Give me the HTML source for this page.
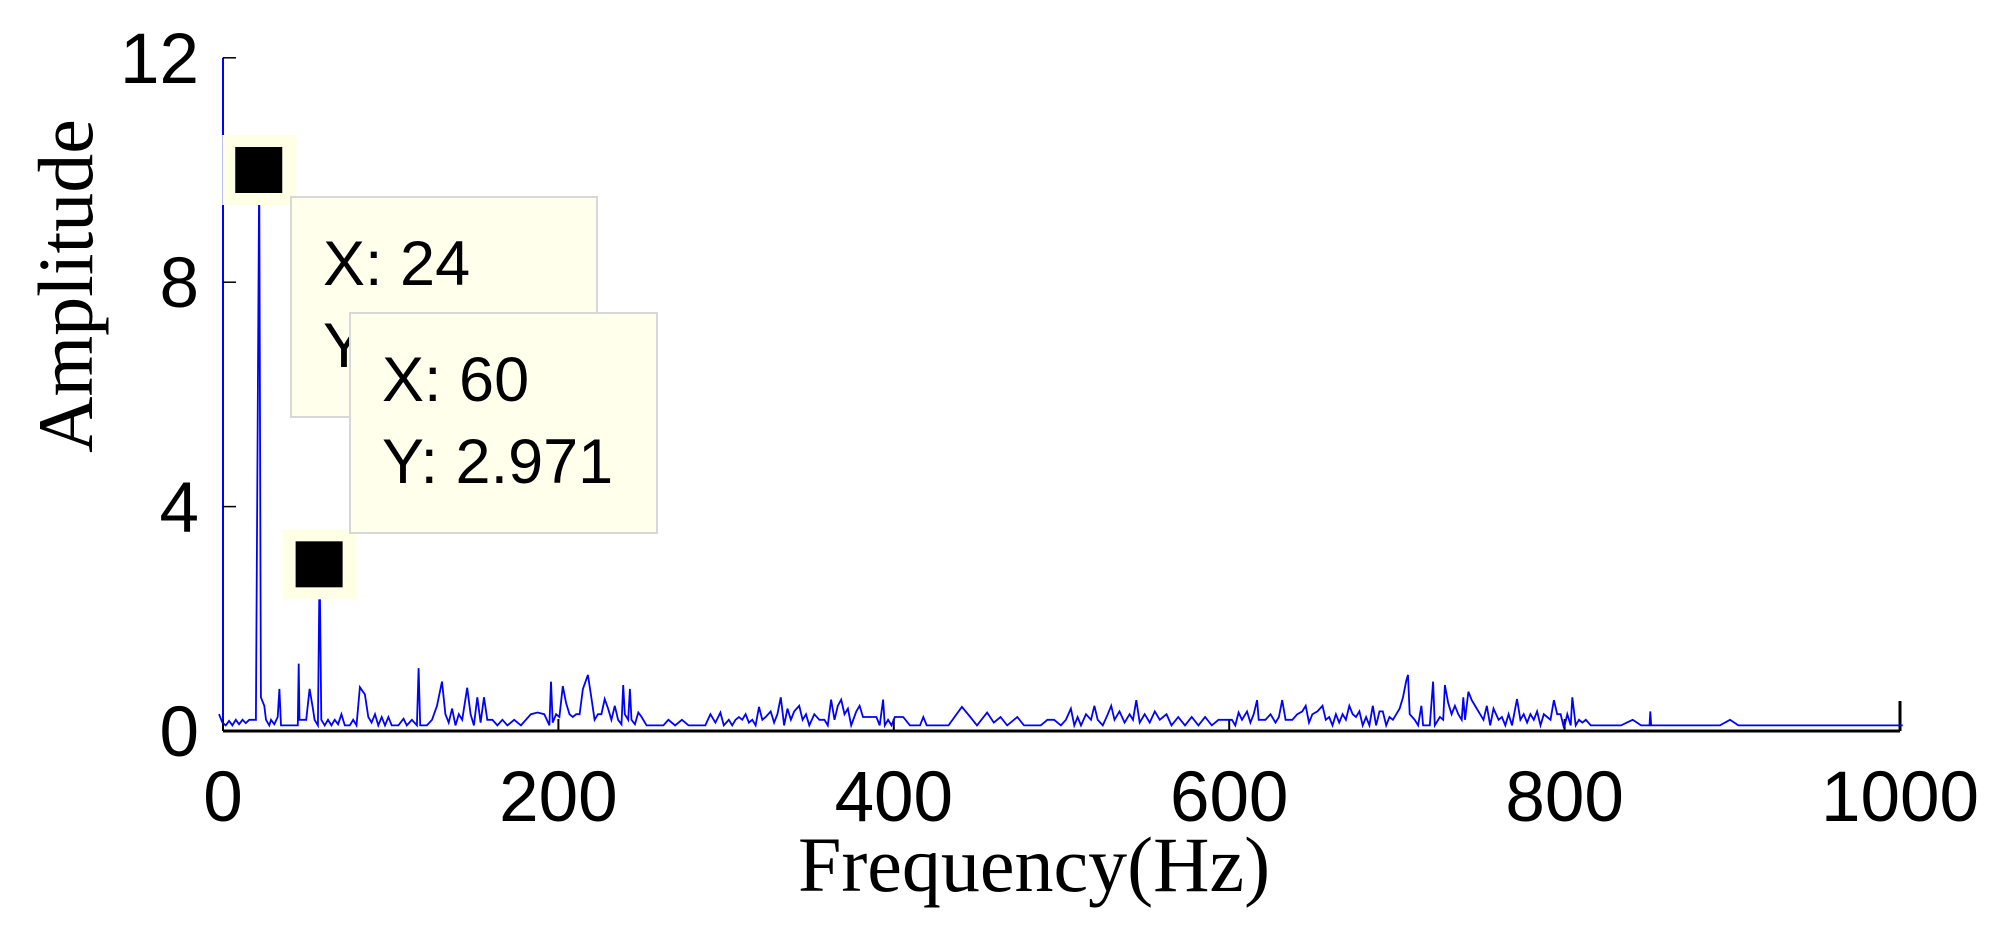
<!DOCTYPE html>
<html><head><meta charset="utf-8"><style>
html,body{margin:0;padding:0;background:#fff;}
svg{display:block;}
</style></head><body>
<svg width="2005" height="936" viewBox="0 0 2005 936" xmlns="http://www.w3.org/2000/svg">
<g id="axes"></g>
<g id="plot"></g>
<g id="tips"></g>
<text transform="translate(92,286) rotate(-90)" text-anchor="middle" font-family="Liberation Serif, serif" font-size="78">Amplitude</text>
<text x="1034" y="891" text-anchor="middle" font-family="Liberation Serif, serif" font-size="78">Frequency(Hz)</text>
</svg>
<script>
const freqs = [0,2,4,6,8,10,12,14,16,18,20,22,24,25,27,28,30,31,33,35,36,37,40,44,47,47.5,48,52,54,56,57,59,60,61,63,65,67,69,71,73,75,78,80,82,84,87,89,91,93,95,97,99,101,103,107,110,112,115,118,119,120,124,127,130,133,135,137,139,141,143,145,148,150,152,154,156,158,160,163,166,169,172,176,180,186,190,194,197,198,199,201,203,205,207,209,211,213,215,217,220,222,224,226,228,230,232,234,236,238,240,241,242,244,245,246,248,250,252,255,265,268,272,276,280,290,293,296,299,301,304,306,308,310,312,314,316,318,320,322,324,326,329,331,333,335,337,339,341,343,346,348,350,352,355,358,361,363,365,367,369,371,373,375,377,380,382,384,388,392,394,396,397,399,401,403,408,412,418,420,422,435,443,448,452,458,462,466,470,476,480,490,494,498,502,505,508,510,512,514,517,520,522,524,527,530,532,534,537,540,543,545,547,549,552,555,558,561,565,568,572,576,580,584,588,592,596,600,604,606,608,610,613,615,617,619,620,624,627,630,632,634,636,640,643,646,648,650,652,655,658,660,662,664,666,668,670,672,674,676,678,680,682,684,686,688,690,692,694,696,698,700,702,704,706,708,709,710,713,715,717,718,722,724,725,728,730,731,733,735,737,739,741,742,743,745,747,750,752,754,756,758,760,763,765,767,769,771,774,776,778,780,782,784,786,788,790,792,794,796,798,800,802,804,806,807,809,811,813,815,818,836,843,848,853,853.5,854,895,901,906,1004];
const amps = [0.3,0.15,0.1,0.18,0.1,0.2,0.12,0.2,0.14,0.2,0.2,0.2,10.0,0.6,0.45,0.2,0.1,0.2,0.12,0.25,0.75,0.1,0.1,0.1,0.1,1.2,0.2,0.2,0.75,0.4,0.2,0.1,2.97,0.2,0.1,0.2,0.1,0.2,0.12,0.3,0.1,0.1,0.2,0.1,0.78,0.65,0.25,0.15,0.3,0.1,0.25,0.1,0.25,0.1,0.1,0.22,0.1,0.2,0.1,1.12,0.1,0.1,0.2,0.45,0.88,0.3,0.15,0.4,0.1,0.3,0.2,0.77,0.3,0.1,0.6,0.15,0.6,0.2,0.2,0.1,0.2,0.1,0.2,0.1,0.3,0.33,0.3,0.1,0.88,0.15,0.3,0.25,0.8,0.5,0.3,0.25,0.3,0.3,0.75,1.0,0.6,0.2,0.3,0.3,0.57,0.4,0.2,0.45,0.2,0.12,0.82,0.3,0.2,0.75,0.2,0.12,0.33,0.25,0.1,0.1,0.2,0.1,0.2,0.1,0.1,0.3,0.15,0.33,0.1,0.2,0.1,0.2,0.25,0.2,0.3,0.15,0.2,0.1,0.43,0.2,0.25,0.35,0.15,0.3,0.6,0.1,0.4,0.2,0.35,0.45,0.2,0.3,0.1,0.3,0.2,0.2,0.1,0.56,0.2,0.45,0.56,0.3,0.4,0.1,0.35,0.45,0.25,0.25,0.25,0.1,0.56,0.1,0.2,0.1,0.25,0.25,0.1,0.1,0.25,0.1,0.1,0.43,0.25,0.1,0.33,0.15,0.25,0.1,0.25,0.1,0.1,0.2,0.2,0.1,0.2,0.4,0.1,0.25,0.1,0.3,0.2,0.45,0.2,0.1,0.3,0.45,0.2,0.35,0.15,0.3,0.2,0.55,0.15,0.3,0.15,0.35,0.2,0.3,0.1,0.25,0.1,0.25,0.1,0.25,0.1,0.2,0.2,0.2,0.1,0.33,0.2,0.35,0.15,0.3,0.55,0.2,0.2,0.3,0.15,0.25,0.55,0.2,0.2,0.3,0.35,0.45,0.15,0.3,0.35,0.45,0.2,0.25,0.1,0.3,0.15,0.3,0.2,0.45,0.3,0.25,0.35,0.1,0.25,0.1,0.45,0.1,0.35,0.35,0.1,0.25,0.2,0.3,0.4,0.6,0.9,1.0,0.3,0.2,0.1,0.45,0.1,0.1,0.88,0.1,0.25,0.2,0.82,0.5,0.3,0.45,0.3,0.2,0.6,0.2,0.7,0.55,0.4,0.3,0.2,0.45,0.1,0.4,0.2,0.25,0.1,0.3,0.1,0.57,0.2,0.3,0.15,0.3,0.2,0.35,0.1,0.3,0.25,0.2,0.55,0.3,0.3,0.05,0.3,0.1,0.6,0.1,0.2,0.15,0.2,0.1,0.1,0.2,0.1,0.1,0.35,0.1,0.1,0.2,0.1,0.1];
const xTicks = [0,200,400,600,800,1000];
const yTicks = [0,4,8,12];
const tipsData = [[24,10.0,"X: 24","Y: 10"],[60,2.971,"X: 60","Y: 2.971"]];

const NS="http://www.w3.org/2000/svg";
const X0=223, PXHZ=1.677, Y0=731, PXU=56.1, DOFF=-4;
const xs=v=>X0+v*PXHZ, ys=v=>Y0-v*PXU;
const xd=v=>xs(v)+DOFF;
function mk(tag,attrs,parent){const e=document.createElementNS(NS,tag);for(const k in attrs)e.setAttribute(k,attrs[k]);parent.appendChild(e);return e;}
const axes=document.getElementById('axes'), plot=document.getElementById('plot'), tips=document.getElementById('tips');
const FONT="Liberation Sans, sans-serif";

let yl=mk('line',{x1:X0,y1:ys(12),x2:X0,y2:Y0,stroke:'#0000ff','stroke-width':2},axes);


let xl=mk('line',{x1:X0,y1:Y0,x2:xs(1000),y2:Y0,stroke:'#000','stroke-width':3},axes);


yTicks.forEach(v=>{
  const t=mk('line',{x1:X0,y1:ys(v),x2:X0+13,y2:ys(v),stroke:'#000','stroke-width':1.5},axes);
  
  
  const l=mk('text',{x:199,y:ys(v)+25,'text-anchor':'end','font-family':FONT,'font-size':71},axes);
  
  
  l.textContent=v;
});
xTicks.forEach(v=>{
  const t=mk('line',{x1:xs(v),y1:Y0,x2:xs(v),y2:Y0-(v===1000?30:12),stroke:'#000','stroke-width':v===1000?3:2},axes);
  
  
  const l=mk('text',{x:xs(v),y:821,'text-anchor':'middle','font-family':FONT,'font-size':71},axes);
  
  
  l.textContent=v;
});

let d=freqs.map((f,i)=>(i?'L':'M')+xd(f).toFixed(1)+','+ys(amps[i]).toFixed(1)).join(' ');
const p=mk('path',{d:d,fill:'none',stroke:'#0000ff','stroke-width':1.8,'stroke-linejoin':'miter'},plot);



const boxes=[[291,197,306,220],[350,313,307,220]];
tipsData.forEach((td,i)=>{
  const cx=xd(td[0]), cy=ys(td[1]);
  const g=mk('g',{},tips);
  
  
  const bg=mk('rect',{x:cx-37,y:cy-35,width:74,height:70,fill:'#ffffe6'},g);
  
  
  const m=mk('rect',{x:cx-24,y:cy-23,width:47,height:46,fill:'#000'},g);
  
  
  const b=boxes[i];
  const r=mk('rect',{x:b[0],y:b[1],width:b[2],height:b[3],fill:'#ffffec',stroke:'#d8d8d8','stroke-width':2},g);
  
  
  const t1=mk('text',{x:b[0]+32,y:b[1]+88,'font-family':FONT,'font-size':63},g);
  
  
  t1.textContent=td[2];
  const t2=mk('text',{x:b[0]+32,y:b[1]+170,'font-family':FONT,'font-size':63},g);
  
  
  t2.textContent=td[3];
});
</script>
</body></html>
